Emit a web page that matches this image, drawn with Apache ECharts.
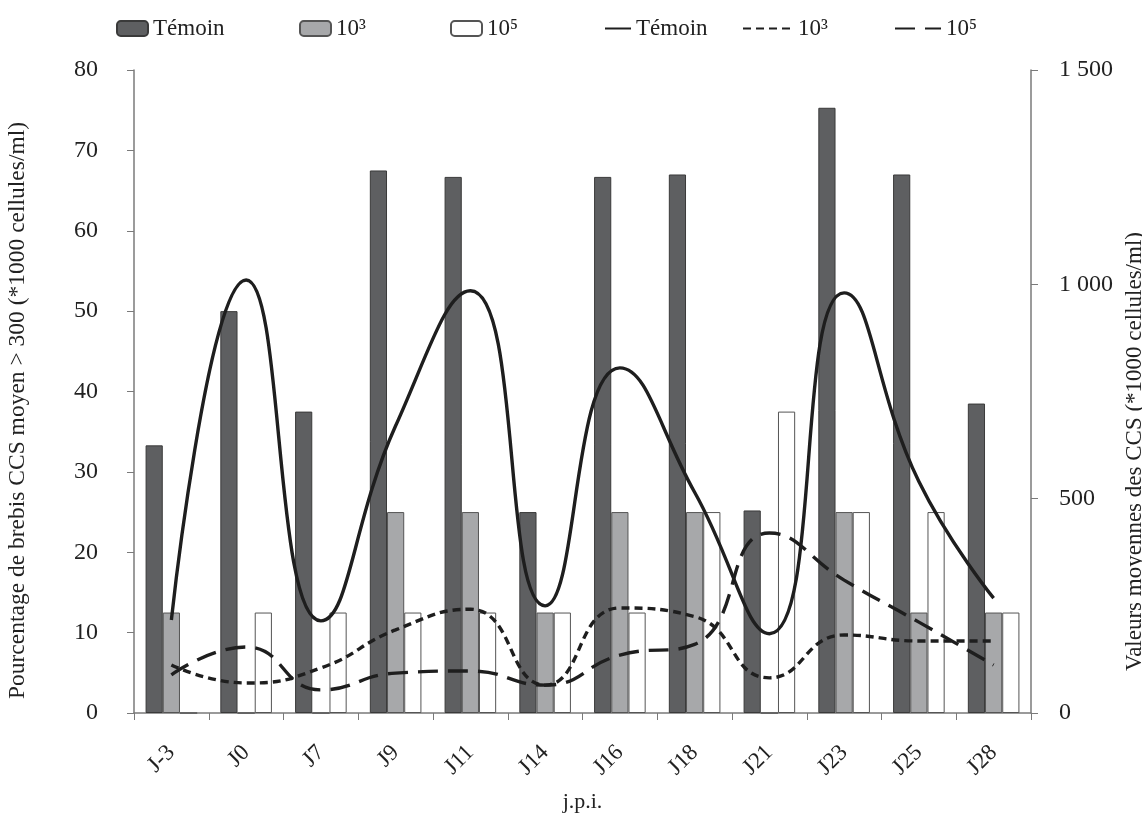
<!DOCTYPE html>
<html><head><meta charset="utf-8">
<script src="https://cdn.jsdelivr.net/npm/echarts@6/dist/echarts.min.js"></script>
<style>html,body{margin:0;padding:0;background:#fff}#c{width:1142px;height:817px}</style>
</head><body><div id="c"></div>
<script>
const categories = ['J-3','J0','J7','J9','J11','J14','J16','J18','J21','J23','J25','J28'];
// bars: % of ewes with CCS > 300 (left axis)
const barTemoin = [33.3, 50, 37.5, 67.5, 66.7, 25, 66.7, 67, 25.2, 75.3, 67, 38.5];
const bar1e3    = [12.5, 0, 0, 25, 25, 12.5, 25, 25, 0, 25, 12.5, 12.5];
const bar1e5    = [0, 12.5, 12.5, 12.5, 12.5, 12.5, 12.5, 25, 37.5, 25, 25, 12.5];
// lines: mean CCS (right axis)
const lineTemoin = [217, 1010, 215, 670, 985, 250, 805, 515, 185, 980, 540, 268];
const line1e3    = [112, 70, 105, 194, 242, 65, 245, 225, 82, 182, 168, 168];
const line1e5    = [89, 154, 54, 93, 98, 65, 135, 160, 420, 310, 212, 112];
const leftTicks = [0, 10, 20, 30, 40, 50, 60, 70, 80];
const rightTicks = [0, 500, 1000, 1500];

const F = 'Liberation Serif, Times New Roman, serif';
const chart = echarts.init(document.getElementById('c'));
const axisCol = '#7a7a7a';
const legendText = {fontFamily: F, fontSize: 23, color: '#222'};
function lg(name, left, w, h, hideSym) {
  const o = {data: [name], top: 12, left: left, itemWidth: w, itemHeight: h, itemGap: 0,
    textStyle: legendText, selectedMode: false};
  if (hideSym) o.itemStyle = {opacity: 0};
  return o;
}
const fmtRight = v => v >= 1000 ? (Math.floor(v/1000) + ' ' + String(v % 1000).padStart(3, '0')) : String(v);
chart.setOption({
  animation: false,
  backgroundColor: '#fff',
  legend: [
    lg('Témoin', 111, 31, 15), lg('10³', 294, 31, 15), lg('10⁵', 445, 31, 15),
    lg('Témoin ', 599, 26, 14, true), lg('10³ ', 737, 50, 14, true), lg('10⁵ ', 889, 46, 14, true)
  ],
  grid: {left: 134, right: 111, top: 70, bottom: 104, outerBoundsMode: 'none', containLabel: false},
  xAxis: {
    type: 'category', data: categories, boundaryGap: true,
    name: 'j.p.i.', nameLocation: 'middle', nameGap: 78,
    nameTextStyle: {fontFamily: F, fontSize: 22, color: '#222'},
    axisLine: {lineStyle: {color: axisCol, width: 1.5}},
    axisTick: {show: true, alignWithLabel: false, length: 7, lineStyle: {color: axisCol}},
    axisLabel: {rotate: 45, fontFamily: F, fontSize: 23, color: '#222', margin: 36}
  },
  yAxis: [{
    type: 'value', min: leftTicks[0], max: leftTicks[leftTicks.length-1], interval: 10,
    name: 'Pourcentage de brebis CCS moyen > 300 (*1000 cellules/ml)',
    nameLocation: 'middle', nameGap: 104, nameRotate: 90,
    nameTextStyle: {fontFamily: F, fontSize: 23.5, color: '#222', padding: [0, 38, 0, 0]},
    axisLine: {show: true, lineStyle: {color: axisCol, width: 1.5}},
    axisTick: {show: true, length: 7, lineStyle: {color: axisCol}},
    splitLine: {show: false},
    axisLabel: {fontFamily: F, fontSize: 24, color: '#222', margin: 36}
  }, {
    type: 'value', min: rightTicks[0], max: rightTicks[rightTicks.length-1], interval: 500,
    name: 'Valeurs moyennes des CCS (*1000 cellules/ml)',
    nameLocation: 'middle', nameGap: 78, nameRotate: 90,
    nameTextStyle: {fontFamily: F, fontSize: 23, color: '#222', padding: [0, 120, 0, 0]},
    axisLine: {show: true, lineStyle: {color: axisCol, width: 1.5}},
    axisTick: {show: true, length: 7, lineStyle: {color: axisCol}},
    splitLine: {show: false},
    axisLabel: {fontFamily: F, fontSize: 24, color: '#222', margin: 28, formatter: fmtRight}
  }],
  series: [
    {name: 'Témoin', type: 'bar', data: barTemoin, barGap: '0%', barCategoryGap: '31%',
      itemStyle: {color: '#5e5f61', borderColor: '#3a3a3a', borderWidth: 1}},
    {name: '10³', type: 'bar', data: bar1e3, barGap: '0%', barCategoryGap: '31%',
      itemStyle: {color: '#a7a8aa', borderColor: '#555', borderWidth: 1}},
    {name: '10⁵', type: 'bar', data: bar1e5, barGap: '0%', barCategoryGap: '31%',
      itemStyle: {color: '#ffffff', borderColor: '#555', borderWidth: 1}},
    {name: 'Témoin ', type: 'line', yAxisIndex: 1, data: lineTemoin, smooth: 0.5, symbol: 'none',
      lineStyle: {color: '#1e1e1e', width: 3.4}, itemStyle: {color: '#1e1e1e'}},
    {name: '10³ ', type: 'line', yAxisIndex: 1, data: line1e3, smooth: 0.5, symbol: 'none',
      lineStyle: {color: '#1e1e1e', width: 3.4, type: [8, 5]}, itemStyle: {color: '#1e1e1e'}},
    {name: '10⁵ ', type: 'line', yAxisIndex: 1, data: line1e5, smooth: 0.5, symbol: 'none',
      lineStyle: {color: '#1e1e1e', width: 3.4, type: [20, 10]}, itemStyle: {color: '#1e1e1e'}}
  ]
});
</script></body></html>
